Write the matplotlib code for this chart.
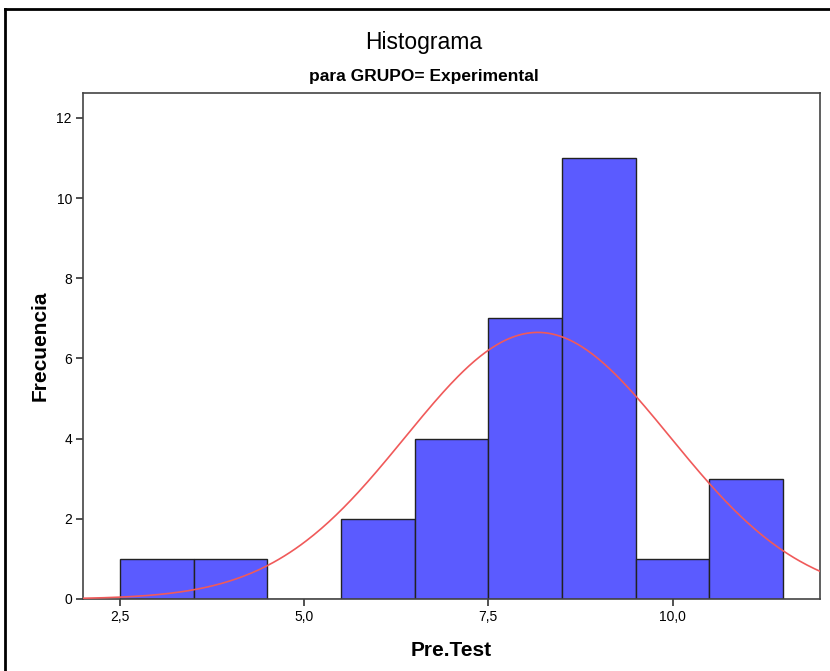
import matplotlib.pyplot as plt
import numpy as np
from matplotlib.lines import Line2D

# class edges and counts of Pre.Test (grupo experimental)
bordes = [2.5, 3.5, 4.5, 5.5, 6.5, 7.5, 8.5, 9.5, 10.5, 11.5]
frecuencias = [1, 1, 0, 2, 4, 7, 11, 1, 3]
n = 30
media = 8.17
desv = 1.80

xticks = [2.5, 5.0, 7.5, 10.0]
xticklabels = ["2,5", "5,0", "7,5", "10,0"]
yticks = [0, 2, 4, 6, 8, 10, 12]

plt.rcParams["font.family"] = ["Liberation Sans", "DejaVu Sans"]

fig = plt.figure(figsize=(8.3, 6.71), dpi=100)
ax = fig.add_axes([83 / 830, 1 - 599 / 671, 737 / 830, 506 / 671])

anchos = np.diff(bordes)
ax.bar(bordes[:-1], frecuencias, width=anchos, align="edge",
       color="#5b5bff", edgecolor="#222222", linewidth=1.0, zorder=2)

# curva normal escalada a frecuencias
xs = np.linspace(2.0, 12.0, 400)
ys = n * 1.0 * np.exp(-0.5 * ((xs - media) / desv) ** 2) / (desv * np.sqrt(2 * np.pi))
ax.plot(xs, ys, color="#f05a5a", linewidth=1.2, zorder=3)

ax.set_xlim(2.0, 12.0)
ax.set_ylim(0, 12.62)
ax.set_xticks(xticks)
ax.set_xticklabels(xticklabels)
ax.set_yticks(yticks)
ax.tick_params(direction="out", length=5, width=1.2, color="#333333",
               labelsize=10, pad=3)
for s in ax.spines.values():
    s.set_color("#444444")
    s.set_linewidth(1.2)

ax.set_xlabel("Pre.Test", fontsize=15, fontweight="bold", labelpad=12)
ax.set_ylabel("Frecuencia", fontsize=15, fontweight="bold", labelpad=5)

fig.text(424 / 830, 1 - 42 / 671, "Histograma", ha="center", va="center",
         fontsize=16.5)
fig.text(424 / 830, 1 - 77 / 671, "para GRUPO= Experimental", ha="center",
         va="center", fontsize=12.5, fontweight="bold")

# marco exterior
fig.add_artist(Line2D([5 / 830, 5 / 830], [0, 1 - 9 / 671], color="black",
                      linewidth=2, transform=fig.transFigure))
fig.add_artist(Line2D([5 / 830, 1], [1 - 9 / 671, 1 - 9 / 671], color="black",
                      linewidth=2, transform=fig.transFigure))

fig.savefig("out.png", dpi=100)
